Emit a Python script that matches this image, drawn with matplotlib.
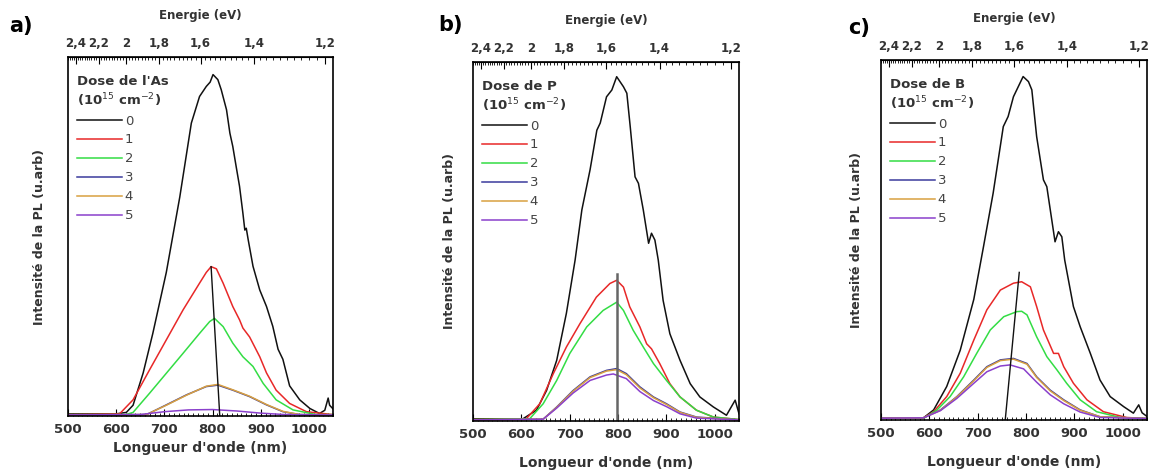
import numpy as np
import matplotlib
matplotlib.use("Agg")
import matplotlib.pyplot as plt
from matplotlib.ticker import FixedLocator, MultipleLocator, FuncFormatter

plt.rcParams['font.family'] = ['DejaVu Sans']

# ---- data (wavelength in nm, intensity in arb. units) ----
doses = ['0', '1', '2', '3', '4', '5']
colors = ['#111111', '#e82828', '#33dd44', '#3b3b9c', '#d8a040', '#8a40cc']

# panel a) As
a0_x = [500, 600, 621, 635, 656, 676, 704, 732, 756, 773, 787, 795, 801, 811, 818, 829, 836, 842, 849, 856, 863, 867, 870, 874, 884, 898, 912, 925, 936, 946, 960, 981, 1002, 1022, 1033, 1040, 1043, 1050]
a0_y = [0.006, 0.006, 0.01, 0.03, 0.12, 0.23, 0.40, 0.61, 0.816, 0.89, 0.918, 0.93, 0.951, 0.937, 0.909, 0.853, 0.788, 0.751, 0.695, 0.64, 0.565, 0.518, 0.523, 0.491, 0.417, 0.351, 0.305, 0.25, 0.186, 0.158, 0.084, 0.045, 0.021, 0.007, 0.016, 0.05, 0.03, 0.02]
a1_x = [500, 607, 635, 669, 704, 739, 773, 787, 797, 808, 822, 842, 856, 863, 877, 898, 912, 932, 960, 995, 1050]
a1_y = [0.004, 0.006, 0.045, 0.128, 0.212, 0.296, 0.37, 0.40, 0.416, 0.41, 0.37, 0.305, 0.268, 0.245, 0.22, 0.165, 0.12, 0.072, 0.035, 0.012, 0.004]
a2_x = [500, 620, 635, 669, 704, 739, 773, 794, 804, 822, 842, 863, 884, 905, 932, 967, 1015, 1050]
a2_y = [0.004, 0.004, 0.01, 0.063, 0.119, 0.175, 0.23, 0.263, 0.272, 0.249, 0.203, 0.165, 0.138, 0.091, 0.045, 0.017, 0.004, 0.004]
a3_x = [500, 663, 704, 746, 787, 811, 842, 877, 912, 946, 981, 1050]
a3_y = [0.003, 0.004, 0.031, 0.059, 0.082, 0.086, 0.072, 0.054, 0.031, 0.012, 0.004, 0.003]
a4_x = [500, 663, 704, 746, 787, 811, 842, 877, 912, 946, 981, 1050]
a4_y = [0.003, 0.004, 0.03, 0.058, 0.083, 0.088, 0.073, 0.055, 0.032, 0.013, 0.004, 0.003]
a5_x = [500, 650, 700, 750, 800, 850, 900, 950, 1050]
a5_y = [0.003, 0.004, 0.012, 0.017, 0.018, 0.014, 0.008, 0.004, 0.003]
a_line_x = [797, 815]
a_line_y = [0.416, 0.0]

# panel b) P
b0_x = [500, 603, 631, 652, 673, 693, 711, 725, 742, 756, 763, 776, 787, 797, 811, 818, 825, 835, 842, 852, 863, 869, 876, 883, 893, 907, 928, 949, 969, 997, 1024, 1042, 1050]
b0_y = [0.006, 0.006, 0.03, 0.085, 0.169, 0.30, 0.448, 0.588, 0.70, 0.81, 0.83, 0.903, 0.922, 0.959, 0.931, 0.913, 0.82, 0.68, 0.662, 0.588, 0.495, 0.523, 0.504, 0.448, 0.336, 0.243, 0.169, 0.104, 0.067, 0.039, 0.016, 0.058, 0.02]
b1_x = [500, 610, 638, 666, 693, 721, 755, 783, 797, 811, 824, 845, 859, 869, 886, 907, 928, 962, 997, 1050]
b1_y = [0.004, 0.006, 0.048, 0.132, 0.206, 0.271, 0.345, 0.383, 0.392, 0.373, 0.318, 0.262, 0.215, 0.201, 0.16, 0.104, 0.067, 0.03, 0.011, 0.004]
b2_x = [500, 617, 645, 673, 700, 735, 769, 797, 811, 831, 852, 873, 900, 928, 962, 997, 1050]
b2_y = [0.004, 0.006, 0.048, 0.113, 0.188, 0.262, 0.308, 0.331, 0.308, 0.253, 0.206, 0.16, 0.113, 0.067, 0.03, 0.011, 0.004]
b3_x = [500, 645, 673, 707, 742, 776, 797, 817, 845, 873, 900, 928, 962, 1050]
b3_y = [0.003, 0.005, 0.039, 0.085, 0.123, 0.141, 0.146, 0.132, 0.095, 0.067, 0.048, 0.025, 0.011, 0.003]
b4_x = [500, 645, 673, 707, 742, 776, 797, 817, 845, 873, 900, 928, 962, 1050]
b4_y = [0.003, 0.005, 0.038, 0.083, 0.121, 0.139, 0.143, 0.129, 0.092, 0.065, 0.046, 0.024, 0.01, 0.003]
b5_x = [500, 645, 673, 707, 742, 776, 790, 817, 845, 873, 900, 928, 962, 1050]
b5_y = [0.003, 0.005, 0.036, 0.078, 0.113, 0.128, 0.131, 0.118, 0.082, 0.057, 0.04, 0.02, 0.008, 0.003]
b_line_x = [797, 797]
b_line_y = [0.0, 0.41]

# panel c) B
c0_x = [500, 588, 609, 636, 664, 692, 712, 732, 753, 763, 774, 784, 794, 805, 812, 822, 836, 843, 860, 867, 874, 880, 898, 912, 933, 953, 974, 1002, 1022, 1033, 1040, 1050]
c0_y = [0.006, 0.006, 0.028, 0.093, 0.194, 0.335, 0.481, 0.63, 0.815, 0.843, 0.898, 0.926, 0.954, 0.94, 0.917, 0.787, 0.667, 0.648, 0.495, 0.523, 0.509, 0.444, 0.315, 0.259, 0.185, 0.111, 0.065, 0.037, 0.019, 0.042, 0.02, 0.01]
c1_x = [500, 588, 609, 636, 664, 692, 719, 747, 774, 791, 809, 822, 836, 857, 867, 878, 898, 926, 960, 1008, 1050]
c1_y = [0.005, 0.006, 0.023, 0.065, 0.13, 0.222, 0.306, 0.361, 0.38, 0.384, 0.37, 0.315, 0.25, 0.185, 0.185, 0.148, 0.102, 0.056, 0.023, 0.007, 0.004]
c2_x = [500, 590, 616, 643, 671, 698, 726, 754, 781, 791, 802, 822, 843, 864, 884, 912, 946, 995, 1050]
c2_y = [0.005, 0.006, 0.028, 0.065, 0.12, 0.185, 0.25, 0.287, 0.301, 0.302, 0.292, 0.231, 0.176, 0.139, 0.102, 0.056, 0.023, 0.007, 0.004]
c3_x = [500, 588, 623, 657, 692, 719, 747, 774, 802, 822, 850, 878, 912, 953, 1050]
c3_y = [0.005, 0.006, 0.028, 0.065, 0.111, 0.148, 0.167, 0.171, 0.157, 0.12, 0.083, 0.056, 0.028, 0.009, 0.004]
c4_x = [500, 588, 623, 657, 692, 719, 747, 774, 802, 822, 850, 878, 912, 953, 1050]
c4_y = [0.005, 0.006, 0.027, 0.064, 0.109, 0.146, 0.165, 0.169, 0.155, 0.118, 0.081, 0.054, 0.027, 0.009, 0.004]
c5_x = [500, 588, 623, 657, 692, 719, 747, 767, 795, 822, 850, 878, 912, 953, 1050]
c5_y = [0.005, 0.006, 0.026, 0.06, 0.102, 0.134, 0.15, 0.153, 0.142, 0.105, 0.07, 0.045, 0.022, 0.007, 0.004]
c_line_x = [757, 786]
c_line_y = [0.0, 0.41]

energy_ticks = [2.4, 2.2, 2.0, 1.8, 1.6, 1.4, 1.2]

panels = [
    ('a)', "Dose de l'As", [(a0_x, a0_y), (a1_x, a1_y), (a2_x, a2_y), (a3_x, a3_y), (a4_x, a4_y), (a5_x, a5_y)],
     (a_line_x, a_line_y, '#111111', 1.0), [0.0592, 0.1242, 0.2306, 0.7558], (0.008, 0.925), -0.070, 16),
    ('b)', "Dose de P", [(b0_x, b0_y), (b1_x, b1_y), (b2_x, b2_y), (b3_x, b3_y), (b4_x, b4_y), (b5_x, b5_y)],
     (b_line_x, b_line_y, '#666666', 1.8), [0.4117, 0.1137, 0.2315, 0.7558], (0.381, 0.926), -0.0975, 12),
    ('c)', "Dose de B", [(c0_x, c0_y), (c1_x, c1_y), (c2_x, c2_y), (c3_x, c3_y), (c4_x, c4_y), (c5_x, c5_y)],
     (c_line_x, c_line_y, '#111111', 1.0), [0.7667, 0.1158, 0.2315, 0.7579], (0.738, 0.919), -0.097, 13),
]


def to_energy(x):
    x = np.asarray(x, dtype=float)
    return 1240.0 / np.where(x == 0, 1e-9, x)


comma = FuncFormatter(lambda v, p: f"{v:g}".replace('.', ','))

fig = plt.figure(figsize=(11.49, 4.75), dpi=100)

for tag, title, series, shift, rect, tagpos, xlab_y, ypad in panels:
    ax = fig.add_axes(rect)
    for (x, y), lab, col in zip(series, doses, colors):
        ax.plot(x, y, color=col, lw=1.1, label=lab)
    lx, ly, lc, lw = shift
    ax.plot(lx, ly, color=lc, lw=lw)

    ax.set_xlim(500, 1050)
    ax.set_ylim(0, 1)
    ax.set_yticks([])
    ax.xaxis.set_major_locator(MultipleLocator(100))
    ax.xaxis.set_minor_locator(MultipleLocator(10))
    ax.tick_params(axis='x', which='major', direction='in', length=5, labelsize=9.5, pad=5,
                   labelcolor='#333333')
    ax.tick_params(axis='x', which='minor', direction='in', length=2.5)
    for lbl in ax.get_xticklabels():
        lbl.set_fontweight('bold')
    ax.set_xlabel("Longueur d'onde (nm)", fontsize=10, fontweight='bold', color='#333333')
    ax.xaxis.set_label_coords(0.5, xlab_y)
    ax.set_ylabel("Intensité de la PL (u.arb)", fontsize=9, fontweight='bold', labelpad=ypad, color='#333333')
    for sp in ax.spines.values():
        sp.set_linewidth(1.2)

    sec = ax.secondary_xaxis('top', functions=(to_energy, to_energy))
    sec.xaxis.set_major_locator(FixedLocator(energy_ticks))
    sec.xaxis.set_minor_locator(FixedLocator(np.round(np.arange(1.18, 2.49, 0.02), 2)))
    sec.xaxis.set_major_formatter(comma)
    sec.tick_params(axis='x', which='major', direction='in', length=5, labelsize=8.5, pad=5,
                    labelcolor='#333333')
    sec.tick_params(axis='x', which='minor', direction='in', length=2.5)
    for lbl in sec.xaxis.get_ticklabels():
        lbl.set_fontweight('bold')
    sec.set_xlabel("Energie (eV)", fontsize=8.5, fontweight='bold', labelpad=13, color='#333333')

    leg = ax.legend(loc='upper left', frameon=False, fontsize=9.5,
                    title=title + "\n(10$^{15}$ cm$^{-2}$)",
                    title_fontproperties={'weight': 'bold', 'size': 9.5},
                    handlelength=3.4, handletextpad=0.2, labelspacing=0.45,
                    borderaxespad=0.3, bbox_to_anchor=(0.0, 0.975))
    leg._legend_box.align = 'left'
    for t in leg.get_texts():
        t.set_color('#444444')
    leg.get_title().set_color('#333333')

    fig.text(tagpos[0], tagpos[1], tag, fontsize=15, fontweight='bold', va='bottom')

fig.savefig('out.png', dpi=100)
